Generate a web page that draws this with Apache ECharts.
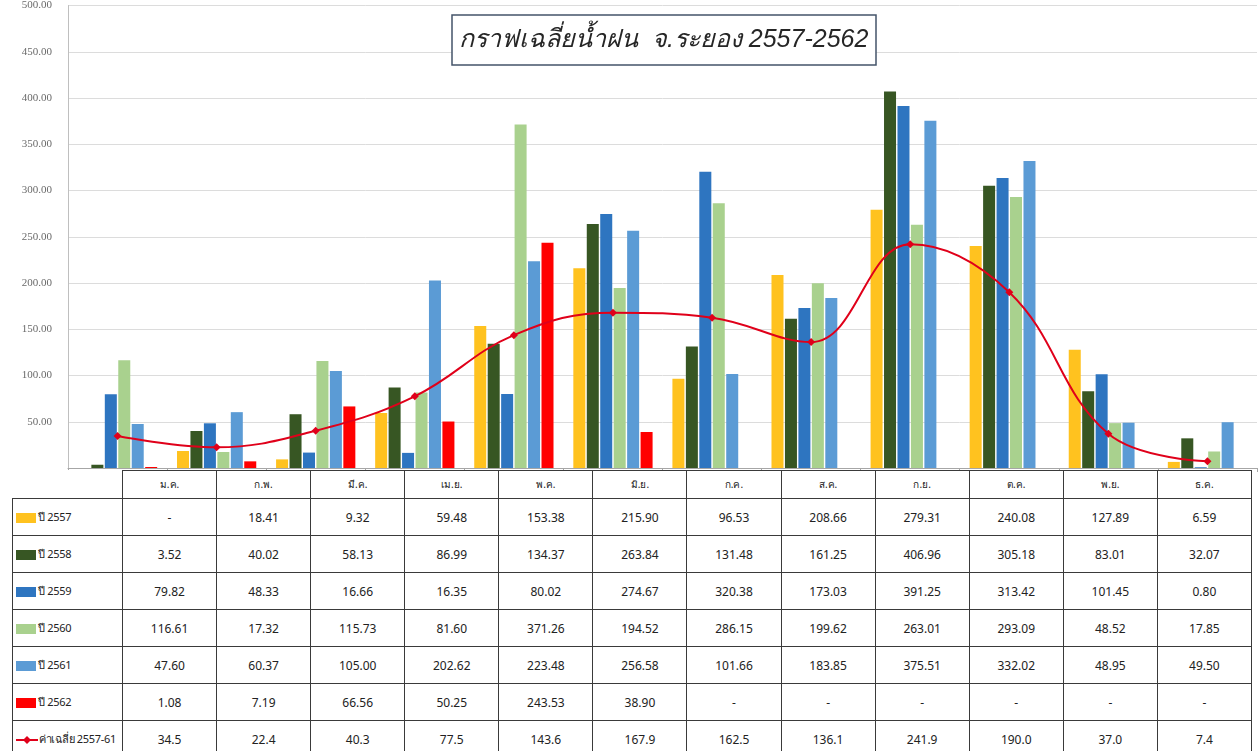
<!DOCTYPE html>
<html>
<head>
<meta charset="utf-8">
<script src="https://cdn.jsdelivr.net/npm/echarts@6/dist/echarts.min.js"></script>
<style>
  html, body { margin: 0; padding: 0; background: #fff; }
  #wrap { position: relative; width: 1259px; height: 751px; overflow: hidden; }
  #chart { position: absolute; left: 0; top: 0; width: 1259px; height: 751px; }
  #tbl {
    position: absolute; left: 12px; top: 470px; width: 1239px;
    border-collapse: collapse; table-layout: fixed; background: #fff;
    font-family: "Liberation Sans Narrow", "Noto Sans", sans-serif; font-size: 12px; color: #222;
  }
  #tbl td { border: 1px solid #3a3a3a; text-align: center; padding: 0; height: 36px; overflow: hidden; }
  #tbl tr.head td { height: 27px; font-size: 10px; }
  #tbl td.lab { text-align: left; padding-left: 3px; white-space: nowrap; letter-spacing: -0.3px; font-size: 11px; }
  #tbl td.corner { border-top: none; border-left: none; }
  .key { display: inline-block; width: 20px; height: 10px; vertical-align: middle; margin-right: 2px; }
</style>
</head>
<body>
<div id="wrap">
  <div id="chart"></div>
  <table id="tbl"></table>
</div>
<script>
// เดือน
const months = ['ม.ค.', 'ก.พ.', 'มี.ค.', 'เม.ย.', 'พ.ค.', 'มิ.ย.', 'ก.ค.', 'ส.ค.', 'ก.ย.', 'ต.ค.', 'พ.ย.', 'ธ.ค.'];

// ปริมาณน้ำฝนรายปี
const y2557 = [null, 18.41, 9.32, 59.48, 153.38, 215.90, 96.53, 208.66, 279.31, 240.08, 127.89, 6.59];
const y2558 = [3.52, 40.02, 58.13, 86.99, 134.37, 263.84, 131.48, 161.25, 406.96, 305.18, 83.01, 32.07];
const y2559 = [79.82, 48.33, 16.66, 16.35, 80.02, 274.67, 320.38, 173.03, 391.25, 313.42, 101.45, 0.80];
const y2560 = [116.61, 17.32, 115.73, 81.60, 371.26, 194.52, 286.15, 199.62, 263.01, 293.09, 48.52, 17.85];
const y2561 = [47.60, 60.37, 105.00, 202.62, 223.48, 256.58, 101.66, 183.85, 375.51, 332.02, 48.95, 49.50];
const y2562 = [1.08, 7.19, 66.56, 50.25, 243.53, 38.90, null, null, null, null, null, null];
// ค่าเฉลี่ย 2557-61
const avg = [34.5, 22.4, 40.3, 77.5, 143.6, 167.9, 162.5, 136.1, 241.9, 190.0, 37.0, 7.4];

const barSeries = [
  { name: 'ปี 2557', data: y2557, color: '#FFC21F' },
  { name: 'ปี 2558', data: y2558, color: '#375623' },
  { name: 'ปี 2559', data: y2559, color: '#2E75C0' },
  { name: 'ปี 2560', data: y2560, color: '#A9D18E' },
  { name: 'ปี 2561', data: y2561, color: '#5B9BD5' },
  { name: 'ปี 2562', data: y2562, color: '#FF0000' }
];
const avgName = 'ค่าเฉลี่ย 2557-61';
const avgColor = '#E0001A';

const myChart = echarts.init(document.getElementById('chart'));

const option = {
  animation: false,
  title: {
    text: 'กราฟเฉลี่ยน้ำฝน  จ.ระยอง 2557-2562',
    left: 452, top: 15,
    padding: [13, 8, 12, 7],
    borderColor: '#44546A', borderWidth: 1.5,
    backgroundColor: '#fff',
    textStyle: { fontSize: 25, fontStyle: 'italic', fontWeight: 'normal', color: '#262626' }
  },
  grid: { left: 68, right: 2, top: 4, bottom: 283 },
  xAxis: {
    type: 'category',
    data: months,
    axisLabel: { show: false },
    axisLine: { lineStyle: { color: '#a6a6a6' } },
    axisTick: { show: true, length: 4, lineStyle: { color: '#a6a6a6' } }
  },
  yAxis: {
    type: 'value',
    min: 0, max: 500, interval: 50,
    axisLine: { show: true, lineStyle: { color: '#bfbfbf' } },
    axisTick: { show: false },
    axisLabel: {
      margin: 16, color: '#6a6a6a', fontSize: 11, fontFamily: 'Liberation Serif',
      showMinLabel: false,
      formatter: v => v.toFixed(2)
    },
    splitLine: { lineStyle: { color: '#dcdcdc' } }
  },
  series: barSeries.map(s => ({
    name: s.name,
    type: 'bar',
    data: s.data,
    barGap: '12%',
    barCategoryGap: '20%',
    itemStyle: { color: s.color }
  })).concat([{
    name: avgName,
    type: 'line',
    data: avg,
    smooth: 0.4,
    symbol: 'diamond',
    symbolSize: 8,
    z: 5,
    lineStyle: { color: avgColor, width: 2 },
    itemStyle: { color: avgColor }
  }])
};
myChart.setOption(option);

// ตารางข้อมูลใต้กราฟ
const fmt2 = v => v == null ? '-' : v.toFixed(2);
const fmt1 = v => v == null ? '-' : v.toFixed(1);
let html = '<colgroup><col style="width:110px">' + months.map(() => '<col style="width:94.08px">').join('') + '</colgroup>';
html += '<tr class="head"><td class="corner"></td>' + months.map(m => '<td>' + m + '</td>').join('') + '</tr>';
barSeries.forEach(s => {
  html += '<tr><td class="lab"><span class="key" style="background:' + s.color + '"></span>' + s.name + '</td>' +
    s.data.map(v => '<td>' + fmt2(v) + '</td>').join('') + '</tr>';
});
html += '<tr><td class="lab"><svg width="22" height="10" style="vertical-align:middle;margin-right:1px">' +
  '<line x1="0" y1="5" x2="22" y2="5" stroke="' + avgColor + '" stroke-width="2"/>' +
  '<polygon points="11,1 15,5 11,9 7,5" fill="' + avgColor + '"/></svg>' + avgName + '</td>' +
  avg.map(v => '<td>' + fmt1(v) + '</td>').join('') + '</tr>';
document.getElementById('tbl').innerHTML = html;
</script>
</body>
</html>
